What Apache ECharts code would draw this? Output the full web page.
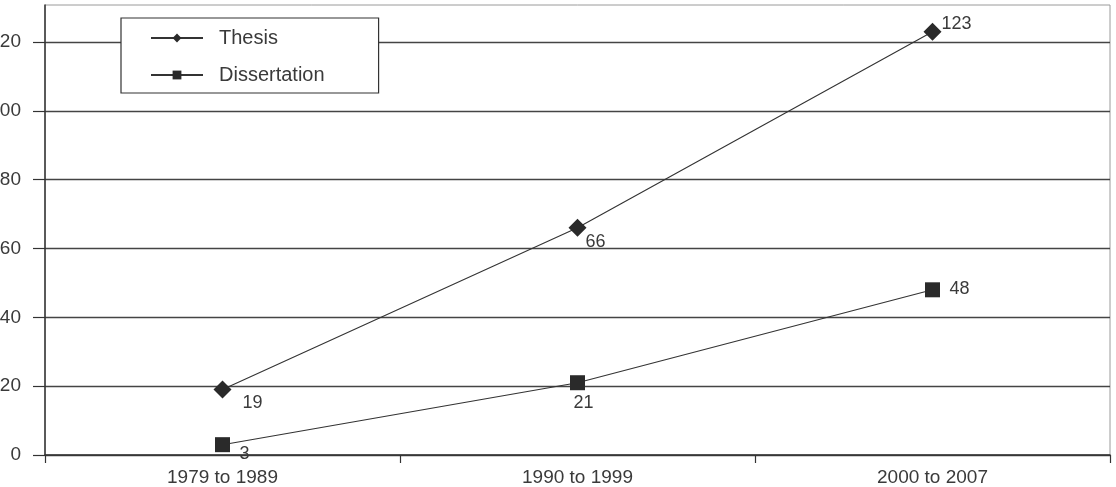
<!DOCTYPE html>
<html>
<head>
<meta charset="utf-8">
<script src="https://cdn.jsdelivr.net/npm/echarts@6/dist/echarts.min.js"></script>
<style>
  html, body { margin: 0; padding: 0; background: #fff; }
  #chart { width: 1116px; height: 487px; }
</style>
</head>
<body>
<div id="chart"></div>
<script>
// data
var categories = ['1979 to 1989', '1990 to 1999', '2000 to 2007']
var thesis = [19, 66, 123]
var dissertation = [3, 21, 48]
var yTicks = [0, 20, 40, 60, 80, 100, 120]

var font = '"Liberation Sans", Arial, sans-serif'
var ink = '#2a2a2a'
var textColor = '#3a3a3a'

// where each value label sits relative to its point
var thesisLabelOffset = [[30, 13], [18, 14], [24, -8]]
var dissLabelOffset = [[22, 9], [6, 20], [27, -1]]

function withLabels (values, offsets) {
  return values.map(function (v, i) {
    return { value: v, label: { offset: offsets[i] } }
  })
}

var myChart = echarts.init(document.getElementById('chart'))

var option = {
  backgroundColor: '#fff',
  animation: false,
  textStyle: { fontFamily: font },
  grid: {
    left: 45, right: 6, top: 5, bottom: 32,
    outerBoundsMode: 'none',
    containLabel: false,
    show: true,
    borderColor: '#9a9a9a',
    borderWidth: 1
  },
  legend: {
    left: 121, top: 18,
    orient: 'vertical',
    backgroundColor: '#fff',
    borderColor: '#333',
    borderWidth: 1.2,
    padding: [10, 54, 8, 29],
    itemGap: 17,
    itemWidth: 52,
    itemHeight: 11,
    textStyle: { fontFamily: font, fontSize: 20, color: textColor, padding: [0, 0, 0, 11] },
    data: ['Thesis', 'Dissertation']
  },
  xAxis: {
    type: 'category',
    data: categories,
    boundaryGap: true,
    axisLine: { lineStyle: { color: '#333', width: 1.5 } },
    axisTick: { show: true, length: 8, inside: false, lineStyle: { color: '#333', width: 1.2 } },
    axisLabel: { fontFamily: font, fontSize: 19, color: textColor, margin: 13 },
    splitLine: { show: false }
  },
  yAxis: {
    type: 'value',
    min: 0,
    max: 130.75,
    interval: 20,
    axisLine: { show: true, lineStyle: { color: '#333', width: 1.5 } },
    axisTick: { show: true, length: 12, inside: false, customValues: yTicks, lineStyle: { color: '#333', width: 1.2 } },
    axisLabel: { fontFamily: font, fontSize: 19, color: textColor, margin: 24, customValues: yTicks },
    splitLine: { show: true, lineStyle: { color: '#444', width: 1.4 } }
  },
  series: [
    {
      name: 'Thesis',
      type: 'line',
      data: withLabels(thesis, thesisLabelOffset),
      symbol: 'diamond',
      symbolSize: 18,
      lineStyle: { color: '#333', width: 1.1 },
      itemStyle: { color: ink },
      label: {
        show: true, position: 'inside', align: 'center', verticalAlign: 'middle',
        fontFamily: font, fontSize: 18, color: textColor
      },
      z: 3
    },
    {
      name: 'Dissertation',
      type: 'line',
      data: withLabels(dissertation, dissLabelOffset),
      symbol: 'rect',
      symbolSize: 15,
      lineStyle: { color: '#333', width: 1.1 },
      itemStyle: { color: ink },
      label: {
        show: true, position: 'inside', align: 'center', verticalAlign: 'middle',
        fontFamily: font, fontSize: 18, color: textColor
      },
      z: 3
    }
  ]
}
myChart.setOption(option)
</script>
</body>
</html>
